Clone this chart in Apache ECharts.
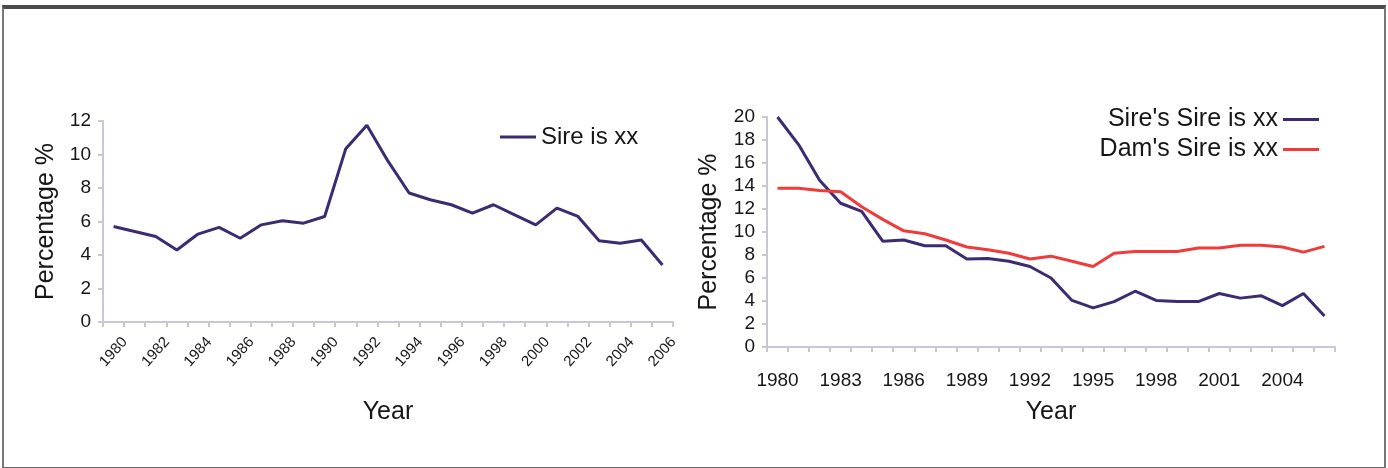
<!DOCTYPE html>
<html>
<head>
<meta charset="utf-8">
<script src="https://cdn.jsdelivr.net/npm/echarts@6/dist/echarts.min.js"></script>
<style>
  html, body { margin: 0; padding: 0; background: #fff; }
  #frame {
    position: absolute; left: 2px; top: 5px; width: 1380px; height: 458px;
    border-top: 4px solid #4a4a4a; border-left: 2px solid #777;
    border-right: 2px solid #777; border-bottom: 2px solid #666;
  }
  #chart { position: absolute; left: 0; top: 0; width: 1388px; height: 468px; }
</style>
</head>
<body>
<div id="frame"></div>
<div id="chart"></div>
<script>
// years 1980..2006, both panels
const years = ['1980','1981','1982','1983','1984','1985','1986','1987','1988','1989',
  '1990','1991','1992','1993','1994','1995','1996','1997','1998','1999',
  '2000','2001','2002','2003','2004','2005','2006'];

// left panel
const sireIsXX = [5.7, 5.4, 5.1, 4.3, 5.25, 5.65, 5.0, 5.8, 6.05, 5.9,
  6.3, 10.35, 11.75, 9.6, 7.7, 7.3, 7.0, 6.5, 7.0, 6.4,
  5.8, 6.8, 6.3, 4.85, 4.7, 4.9, 3.4];

// right panel
const siresSireIsXX = [20, 17.6, 14.5, 12.5, 11.8, 9.2, 9.3, 8.8, 8.8, 7.65,
  7.7, 7.45, 7.0, 6.0, 4.05, 3.4, 3.95, 4.85, 4.05, 3.95,
  3.95, 4.65, 4.25, 4.45, 3.6, 4.65, 2.7];
const damsSireIsXX = [13.8, 13.8, 13.6, 13.5, 12.2, 11.1, 10.1, 9.85, 9.3, 8.7,
  8.45, 8.15, 7.65, 7.9, 7.45, 7.0, 8.15, 8.3, 8.3, 8.3,
  8.6, 8.6, 8.85, 8.85, 8.7, 8.25, 8.75];

const font = 'Liberation Sans, Arial, sans-serif';
const axisGray = '#c9c6d6';
const textCol = '#161616';
const purple = '#3d2b72';
const red = '#ef3b3b';

const chart = echarts.init(document.getElementById('chart'));

function yAxisCfg(gridIndex, max, gap) {
  return {
    type: 'value', gridIndex: gridIndex, min: 0, max: max, interval: 2,
    name: 'Percentage %', nameLocation: 'middle', nameGap: gap,
    nameTextStyle: { fontFamily: font, fontSize: 25, color: textCol },
    axisLine: { show: true, lineStyle: { color: axisGray, width: 2 } },
    axisTick: { show: true, length: 5, lineStyle: { color: axisGray, width: 2 } },
    axisLabel: { fontFamily: font, fontSize: 19, color: textCol, margin: 12 },
    splitLine: { show: false }
  };
}

chart.setOption({
  animation: false,
  textStyle: { fontFamily: font },
  grid: [
    { left: 103, right: 715, top: 121, bottom: 146 },
    { left: 767, right: 53, top: 117, bottom: 121 }
  ],
  legend: [
    {
      data: ['Sire is xx'], left: 495, top: 120, icon: 'rect',
      itemWidth: 36, itemHeight: 3, itemGap: 8,
      textStyle: { fontFamily: font, fontSize: 24, color: textCol }
    },
    {
      data: ["Sire's Sire is xx", "Dam's Sire is xx"], right: 64, top: 102,
      orient: 'vertical', align: 'right', icon: 'rect',
      itemWidth: 36, itemHeight: 3, itemGap: 5,
      textStyle: { fontFamily: font, fontSize: 25, color: textCol }
    }
  ],
  xAxis: [
    {
      type: 'category', gridIndex: 0, data: years, boundaryGap: true,
      name: 'Year', nameLocation: 'middle', nameGap: 78,
      nameTextStyle: { fontFamily: font, fontSize: 25, color: textCol },
      axisLine: { lineStyle: { color: axisGray, width: 2 } },
      axisTick: { show: true, interval: 0, length: 5, lineStyle: { color: axisGray, width: 2 } },
      axisLabel: {
        interval: 1, rotate: 48, align: 'center', verticalAlign: 'middle',
        fontFamily: font, fontSize: 15, color: textCol, margin: 30
      }
    },
    {
      type: 'category', gridIndex: 1, data: years, boundaryGap: true,
      name: 'Year', nameLocation: 'middle', nameGap: 53,
      nameTextStyle: { fontFamily: font, fontSize: 25, color: textCol },
      axisLine: { lineStyle: { color: axisGray, width: 2 } },
      axisTick: { show: true, interval: 0, length: 5, lineStyle: { color: axisGray, width: 2 } },
      axisLabel: { interval: 2, fontFamily: font, fontSize: 19, color: textCol, margin: 24 }
    }
  ],
  yAxis: [yAxisCfg(0, 12, 44), yAxisCfg(1, 20, 45)],
  series: [
    {
      name: 'Sire is xx', type: 'line', xAxisIndex: 0, yAxisIndex: 0,
      data: sireIsXX, showSymbol: false, lineStyle: { color: purple, width: 3 },
      itemStyle: { color: purple }
    },
    {
      name: "Sire's Sire is xx", type: 'line', xAxisIndex: 1, yAxisIndex: 1,
      data: siresSireIsXX, showSymbol: false, lineStyle: { color: purple, width: 3 },
      itemStyle: { color: purple }
    },
    {
      name: "Dam's Sire is xx", type: 'line', xAxisIndex: 1, yAxisIndex: 1,
      data: damsSireIsXX, showSymbol: false, lineStyle: { color: red, width: 3 },
      itemStyle: { color: red }
    }
  ]
});
</script>
</body>
</html>
